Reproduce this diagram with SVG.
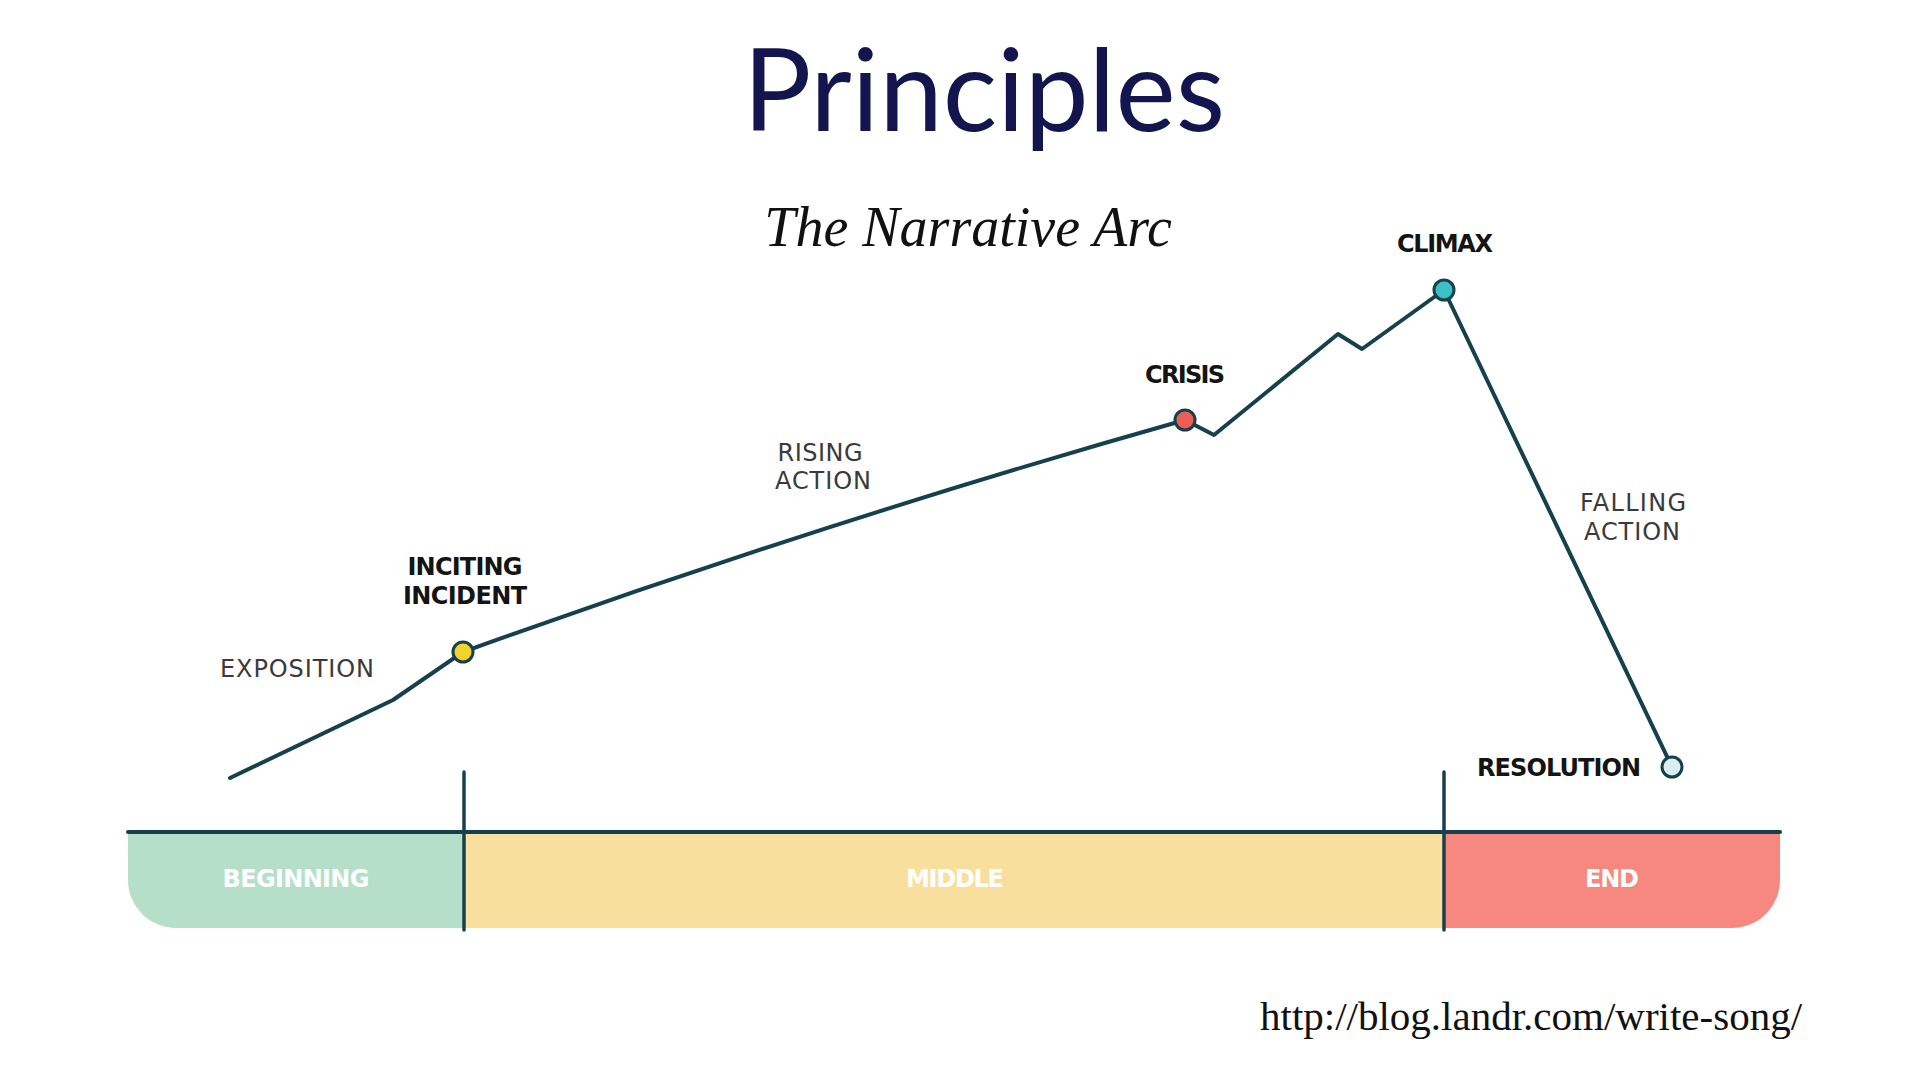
<svg xmlns="http://www.w3.org/2000/svg" width="1920" height="1080" viewBox="0 0 1920 1080">
  <style>
    .title { font-family: Lato, "Noto Sans", sans-serif; font-size: 114px; fill: #12154e; }
    .subtitle { font-family: "Liberation Serif", serif; font-style: italic; font-size: 56px; fill: #111; }
    .url { font-family: "Liberation Serif", serif; font-size: 41px; fill: #111; }
    .lbl { font-family: "DejaVu Sans", sans-serif; font-size: 24px; fill: #3a3a3a; }
    .key { font-family: "DejaVu Sans", sans-serif; font-size: 24px; font-weight: bold; fill: #141414; }
    .band { font-family: "DejaVu Sans", sans-serif; font-size: 24px; font-weight: bold; fill: #ffffff; }
    .arc { fill: none; stroke: #17404d; stroke-width: 4; stroke-linejoin: round; stroke-linecap: round; }
    .axis { fill: none; stroke: #17404d; stroke-width: 4; stroke-linecap: round; }
    .tick { fill: none; stroke: #17404d; stroke-width: 3.5; stroke-linecap: round; }
    .dot { stroke: #17404d; stroke-width: 3; }
  </style>

  <rect width="1920" height="1080" fill="#ffffff"/>

  <text class="title" x="984" y="131" text-anchor="middle">Principles</text>
  <text class="subtitle" x="968" y="246" text-anchor="middle">The Narrative Arc</text>

  <!-- act bands -->
  <g id="bands">
    <g id="beginning">
      <path d="M128,832 H464 V928 H176 A48,48 0 0 1 128,880 Z" fill="#b6dfc9"/>
      <text class="band" x="296" y="887" text-anchor="middle" textLength="147">BEGINNING</text>
    </g>
    <g id="middle">
      <rect x="464" y="832" width="980" height="96" fill="#f9df9e"/>
      <text class="band" x="955" y="887" text-anchor="middle" textLength="98">MIDDLE</text>
    </g>
    <g id="end">
      <path d="M1444,832 H1780 V880 A48,48 0 0 1 1732,928 H1444 Z" fill="#f68880"/>
      <text class="band" x="1612" y="887" text-anchor="middle" textLength="54">END</text>
    </g>
  </g>

  <!-- story line, axis and act dividers -->
  <g id="connectors">
    <path class="arc" d="M230,778 L393,700 L463,652 Q824,522 1185,420 L1214,435 L1338,334 L1362,349 L1444,290 L1672,767"/>
    <line class="axis" x1="128" y1="832" x2="1780" y2="832"/>
    <line class="tick" x1="464" y1="772" x2="464" y2="930"/>
    <line class="tick" x1="1444" y1="772" x2="1444" y2="930"/>
  </g>

  <!-- phase labels -->
  <g id="exposition">
    <text class="lbl" x="297" y="677" text-anchor="middle" textLength="154">EXPOSITION</text>
  </g>
  <g id="rising-action">
    <text class="lbl" x="820" y="461" text-anchor="middle" textLength="85">RISING</text>
    <text class="lbl" x="823" y="489" text-anchor="middle" textLength="96">ACTION</text>
  </g>
  <g id="falling-action">
    <text class="lbl" x="1633" y="511" text-anchor="middle" textLength="106">FALLING</text>
    <text class="lbl" x="1632" y="540" text-anchor="middle" textLength="96">ACTION</text>
  </g>

  <!-- turning points -->
  <g id="inciting-incident">
    <circle class="dot" cx="463" cy="652" r="10" fill="#f2d22b"/>
    <text class="key" x="465" y="575" text-anchor="middle" textLength="115">INCITING</text>
    <text class="key" x="465" y="604" text-anchor="middle" textLength="124">INCIDENT</text>
  </g>
  <g id="crisis">
    <circle class="dot" cx="1185" cy="420" r="10" fill="#ef5e55"/>
    <text class="key" x="1185" y="383" text-anchor="middle" textLength="80">CRISIS</text>
  </g>
  <g id="climax">
    <circle class="dot" cx="1444" cy="290" r="10" fill="#3ac0c6"/>
    <text class="key" x="1445" y="252" text-anchor="middle" textLength="96">CLIMAX</text>
  </g>
  <g id="resolution">
    <circle class="dot" cx="1672" cy="767" r="10" fill="#d8eef3"/>
    <text class="key" x="1559" y="776" text-anchor="middle" textLength="164">RESOLUTION</text>
  </g>

  <text class="url" x="1260" y="1030">http://blog.landr.com/write-song/</text>
</svg>
